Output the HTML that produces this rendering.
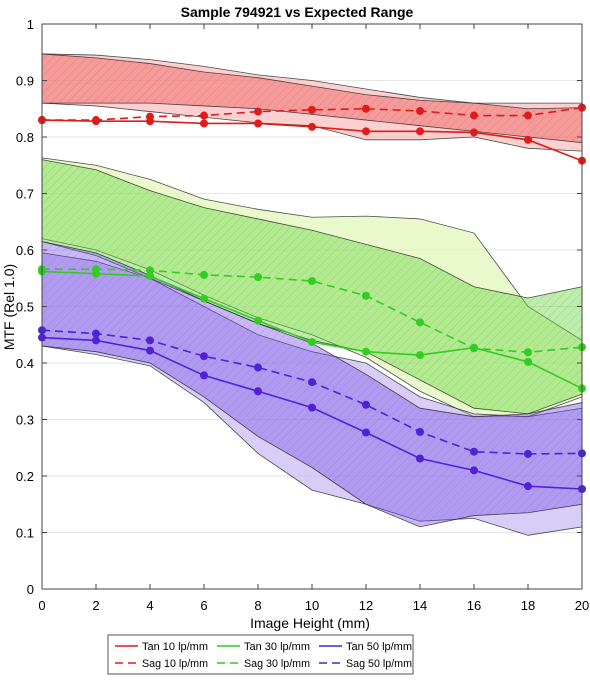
<!DOCTYPE html>
<html><head><meta charset="utf-8"><style>
body{margin:0;background:#fff;font-family:"Liberation Sans",Arial,sans-serif}
svg text{font-family:"Liberation Sans",Arial,sans-serif}
</style></head><body>
<svg id="c" width="590" height="682">
<defs>
<pattern id="hatch" width="6" height="6" patternUnits="userSpaceOnUse" patternTransform="rotate(45)">
<line x1="0" y1="0" x2="0" y2="6" stroke="rgba(0,0,0,0.13)" stroke-width="1"/>
</pattern>
</defs>
<g id="grid"></g><g id="bands"></g><g id="lines"></g><g id="axes"></g>
<text x="297" y="17" text-anchor="middle" font-size="14" font-weight="bold">Sample 794921 vs Expected Range</text>
<text x="310" y="628" text-anchor="middle" font-size="14">Image Height (mm)</text>
<text transform="translate(14,307) rotate(-90)" text-anchor="middle" font-size="14">MTF (Rel 1.0)</text>
<g>
<rect x="108" y="635" width="305" height="39" fill="#fff" stroke="#555"/>
<g id="leg"></g>
</g>
</svg>
<script>
const heights=[0,2,4,6,8,10,12,14,16,18,20];
const yTicks=[0,0.1,0.2,0.3,0.4,0.5,0.6,0.7,0.8,0.9,1];
const tan10=[.830,.828,.828,.824,.824,.818,.810,.810,.808,.795,.758];
const sag10=[.830,.830,.836,.838,.845,.848,.850,.846,.838,.838,.852];
const tan30=[.562,.558,.554,.514,.475,.437,.420,.414,.427,.402,.355];
const sag30=[.566,.566,.564,.556,.552,.545,.519,.472,.426,.419,.428];
const tan50=[.445,.440,.422,.378,.350,.321,.277,.231,.210,.182,.177];
const sag50=[.458,.452,.440,.412,.392,.366,.326,.278,.243,.239,.240];
const r10LightHi=[.947,.945,.937,.925,.91,.9,.885,.87,.86,.86,.86];
const r10LightLo=[.86,.855,.845,.835,.825,.82,.795,.795,.8,.78,.775];
const r10HatchHi=[.947,.94,.93,.915,.905,.89,.875,.865,.86,.85,.852];
const r10HatchLo=[.86,.86,.86,.855,.85,.84,.83,.82,.81,.80,.79];
const r30LightHi=[.763,.75,.725,.69,.672,.658,.66,.655,.63,.5,.44];
const r30LightLo=[.62,.60,.565,.52,.48,.45,.41,.35,.305,.305,.34];
const r30HatchHi=[.76,.742,.705,.675,.655,.635,.61,.585,.535,.515,.535];
const r30HatchLo=[.615,.59,.55,.51,.47,.44,.42,.37,.32,.31,.345];
const r50LightHi=[.595,.58,.55,.5,.45,.42,.4,.34,.31,.305,.32];
const r50LightLo=[.43,.415,.395,.33,.24,.175,.15,.12,.125,.095,.11];
const r50HatchHi=[.615,.595,.555,.51,.47,.435,.38,.32,.305,.31,.33];
const r50HatchLo=[.43,.42,.40,.34,.27,.215,.15,.11,.13,.135,.15];
const NS="http://www.w3.org/2000/svg";
const X=v=>42+v*27, Y=v=>589-565*v;
function mk(p,t,a){const e=document.createElementNS(NS,t);for(const k in a)e.setAttribute(k,a[k]);document.getElementById(p).appendChild(e);return e;}
yTicks.forEach(t=>{
 const g=mk('grid','line',{x1:42,x2:582,y1:Y(t),y2:Y(t),stroke:'#e6e6e6'});
 
 
 const l=mk('axes','text',{x:34,y:Y(t)+5,'text-anchor':'end','font-size':13});l.textContent=String(t);
 
 
 mk('axes','line',{x1:42,x2:47,y1:Y(t),y2:Y(t),stroke:'#444'});
 mk('axes','line',{x1:577,x2:582,y1:Y(t),y2:Y(t),stroke:'#444'});
});
heights.forEach(h=>{
 const l=mk('axes','text',{x:X(h),y:610,'text-anchor':'middle','font-size':13});l.textContent=String(h);
 
 
 mk('axes','line',{x1:X(h),x2:X(h),y1:589,y2:584,stroke:'#444'});
 mk('axes','line',{x1:X(h),x2:X(h),y1:Y(1),y2:Y(1)+5,stroke:'#444'});
});
mk('axes','rect',{x:42,y:Y(1),width:540,height:565,fill:'none',stroke:'#444'});
function band(hi,lo,fill,hatch,name){
 const pts=heights.map((h,i)=>X(h)+','+Y(hi[i])).concat(heights.map((h,i)=>X(h)+','+Y(lo[i])).reverse()).join(' ');
 const p=mk('bands','polygon',{points:pts,fill:fill,stroke:'#222','stroke-width':0.8,'stroke-opacity':0.8});
 
 
 if(hatch)mk('bands','polygon',{points:pts,fill:'url(#hatch)'});
}
band(r10LightHi,r10LightLo,'rgba(252,170,170,0.55)',false,'range-10-sag');
band(r10HatchHi,r10HatchLo,'rgba(240,100,100,0.5)',true,'range-10-tan');
band(r30LightHi,r30LightLo,'rgba(220,245,170,0.6)',false,'range-30-sag');
band(r30HatchHi,r30HatchLo,'rgba(110,215,70,0.45)',true,'range-30-tan');
band(r50LightHi,r50LightLo,'rgba(175,155,240,0.5)',false,'range-50-sag');
band(r50HatchHi,r50HatchLo,'rgba(125,85,235,0.42)',true,'range-50-tan');
function series(vals,col,dash,name){
 const p=mk('lines','polyline',{points:heights.map((h,i)=>X(h)+','+Y(vals[i])).join(' '),fill:'none',stroke:col,'stroke-width':1.6,'stroke-dasharray':dash?'8,5':'none'});
 
 
 heights.forEach((h,i)=>{
  const c=mk('lines','circle',{cx:X(h),cy:Y(vals[i]),r:4,fill:col});
  
  
 });
}
series(tan10,'#e01b1b',false,'tan-10-line');
series(sag10,'#e01b1b',true,'sag-10-line');
series(tan30,'#33cc22',false,'tan-30-line');
series(sag30,'#33cc22',true,'sag-30-line');
series(tan50,'#4f22d8',false,'tan-50-line');
series(sag50,'#4f22d8',true,'sag-50-line');
const legItems=[['Tan 10 lp/mm','#e01b1b',0,0],['Tan 30 lp/mm','#33cc22',0,1],['Tan 50 lp/mm','#4f22d8',0,2],['Sag 10 lp/mm','#e01b1b',1,0],['Sag 30 lp/mm','#33cc22',1,1],['Sag 50 lp/mm','#4f22d8',1,2]];
legItems.forEach(([t,c,r,col])=>{
 const x0=115+col*102,y0=646+r*17;
 mk('leg','line',{x1:x0,x2:x0+23,y1:y0,y2:y0,stroke:c,'stroke-width':1.6,'stroke-dasharray':r?'8,5':'none'});
 const tx=mk('leg','text',{x:x0+27,y:y0+4,'font-size':11,textLength:66,lengthAdjust:'spacingAndGlyphs'});tx.textContent=t;
 
 
});
</script>
</body></html>
